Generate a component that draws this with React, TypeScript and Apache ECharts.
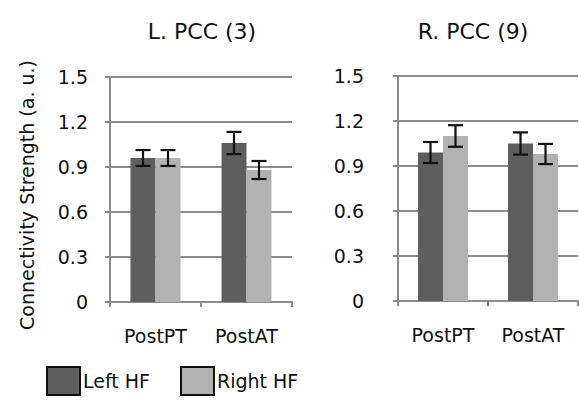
import React, { useEffect, useRef } from "react";
import * as echarts from "echarts";

const categories = ["PostPT", "PostAT"];
const seriesNames = ["Left HF", "Right HF"];
const leftTitle = "L. PCC (3)";
const rightTitle = "R. PCC (9)";
const yAxisTitle = "Connectivity Strength (a. u.)";
const yTicks = [0, 0.3, 0.6, 0.9, 1.2, 1.5];

// L. PCC (3)
const lpccLeftHF = [0.96, 1.06];
const lpccLeftHFErr = [0.053, 0.074];
const lpccRightHF = [0.96, 0.88];
const lpccRightHFErr = [0.053, 0.06];
// R. PCC (9)
const rpccLeftHF = [0.99, 1.05];
const rpccLeftHFErr = [0.07, 0.074];
const rpccRightHF = [1.1, 0.98];
const rpccRightHFErr = [0.072, 0.067];

const DARK = "#5e5e5e";
const LIGHT = "#b2b2b2";
const GRID = "#8c8c8c";
const FONT = "DejaVu Sans";
const BAR_W = 25;

function errSeries(gridIdx: number, vals: number[], errs: number[], side: number) {
  return {
    type: "custom",
    xAxisIndex: gridIdx,
    yAxisIndex: gridIdx,
    z: 10,
    silent: true,
    data: vals.map((v, i) => [i, v, errs[i]]),
    renderItem: (params: any, api: any) => {
      const x = api.value(0);
      const v = api.value(1);
      const e = api.value(2);
      const top = api.coord([x, v + e]);
      const bot = api.coord([x, v - e]);
      const cx = top[0] + (side * BAR_W) / 2;
      const hw = 7.5;
      const style = { stroke: "#111", lineWidth: 2.2 };
      return {
        type: "group",
        children: [
          { type: "line", shape: { x1: cx, y1: top[1], x2: cx, y2: bot[1] }, style },
          { type: "line", shape: { x1: cx - hw, y1: top[1], x2: cx + hw, y2: top[1] }, style },
          { type: "line", shape: { x1: cx - hw, y1: bot[1], x2: cx + hw, y2: bot[1] }, style },
        ],
      };
    },
  };
}

function barSeries(gridIdx: number, name: string, vals: number[], color: string) {
  return {
    type: "bar",
    name,
    xAxisIndex: gridIdx,
    yAxisIndex: gridIdx,
    data: vals,
    barWidth: BAR_W,
    barGap: "0%",
    itemStyle: { color },
  };
}

function xAxisCfg(gridIdx: number) {
  return {
    type: "category",
    gridIndex: gridIdx,
    data: categories,
    axisLine: { show: true, lineStyle: { color: GRID, width: 2 } },
    axisTick: { show: true, length: 5, lineStyle: { color: GRID, width: 2 } },
    axisLabel: { color: "#111", fontFamily: FONT, fontSize: 19, margin: 24 },
  };
}

function yAxisCfg(gridIdx: number, margin: number) {
  return {
    type: "value",
    gridIndex: gridIdx,
    min: 0,
    max: 1.5,
    interval: 0.3,
    axisLine: { show: true, lineStyle: { color: GRID, width: 2 } },
    axisTick: { show: true, length: 5, lineStyle: { color: GRID, width: 2 } },
    splitLine: { show: true, lineStyle: { color: GRID, width: 2 } },
    axisLabel: {
      color: "#111",
      fontFamily: FONT,
      fontSize: 19,
      margin,
      formatter: (v: number) => {
        const t = yTicks.find((k) => Math.abs(k - v) < 1e-6);
        return t === 0 ? "0" : (t ?? v).toFixed(1);
      },
    },
  };
}

export default function App() {
  const ref = useRef<HTMLDivElement>(null);
  useEffect(() => {
    if (!ref.current) return;
    const chart = echarts.init(ref.current, null, { renderer: "svg" });
    chart.setOption({
      animation: false,
      backgroundColor: "#ffffff",
      title: [
        {
          text: leftTitle,
          left: 197,
          top: 15,
          textAlign: "center",
          textStyle: { fontFamily: FONT, fontSize: 22, fontWeight: "normal", color: "#111" },
        },
        {
          text: rightTitle,
          left: 468,
          top: 15,
          textAlign: "center",
          textStyle: { fontFamily: FONT, fontSize: 22, fontWeight: "normal", color: "#111" },
        },
      ],
      legend: {
        data: seriesNames,
        left: 41,
        top: 361,
        icon: "rect",
        itemWidth: 33,
        itemHeight: 28,
        itemGap: 30,
        itemStyle: { borderColor: "#111", borderWidth: 2 },
        textStyle: { fontFamily: FONT, fontSize: 19, color: "#111", padding: [12, 0, 0, -2] },
      },
      grid: [
        { left: 110, top: 77, width: 182, height: 225 },
        { left: 398, top: 76, width: 180, height: 225 },
      ],
      xAxis: [xAxisCfg(0), xAxisCfg(1)],
      yAxis: [yAxisCfg(0, 22), yAxisCfg(1, 34)],
      graphic: [
        {
          type: "text",
          x: 27,
          y: 195,
          rotation: Math.PI / 2,
          style: {
            text: yAxisTitle,
            font: `19px "${FONT}"`,
            fill: "#111",
            align: "center",
            verticalAlign: "middle",
          },
        },
      ],
      series: [
        barSeries(0, seriesNames[0], lpccLeftHF, DARK),
        barSeries(0, seriesNames[1], lpccRightHF, LIGHT),
        barSeries(1, seriesNames[0], rpccLeftHF, DARK),
        barSeries(1, seriesNames[1], rpccRightHF, LIGHT),
        errSeries(0, lpccLeftHF, lpccLeftHFErr, -1),
        errSeries(0, lpccRightHF, lpccRightHFErr, 1),
        errSeries(1, rpccLeftHF, rpccLeftHFErr, -1),
        errSeries(1, rpccRightHF, rpccRightHFErr, 1),
      ],
    });
    return () => chart.dispose();
  }, []);
  return <div ref={ref} style={{ width: 579, height: 400, position: "absolute", left: 0, top: 0 }} />;
}
